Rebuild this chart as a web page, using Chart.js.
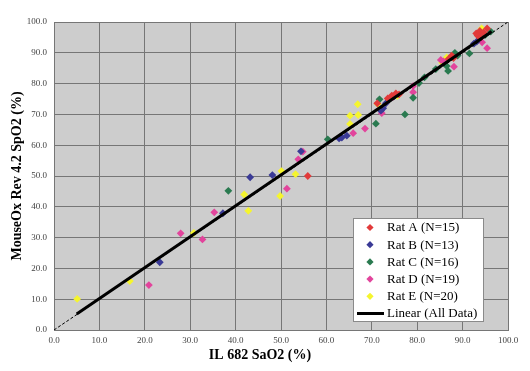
<!DOCTYPE html>
<html>
<head>
<meta charset="utf-8">
<script src="https://cdn.jsdelivr.net/npm/chart.js@4"></script>
<style>
  body { margin: 0; background: #fff; }
  canvas { display: block; }
</style>
</head>
<body>
<canvas id="grafico" width="530" height="371"></canvas>
<script>
// valores: [SaO2, SpO2]
const ratA = [[55.9,50.0],[71.2,73.6],[74.4,76.1],[75.3,76.8],[76.0,76.5],[87.6,89.1],[88.0,88.3],
  [93.0,96.3],[93.8,97.1],[95.4,97.9],[93.3,95.6],[94.6,96.6],[86.9,88.0],[73.5,75.2],[94.0,95.0]];
const ratB = [[23.3,22.0],[37.2,37.9],[43.2,49.6],[48.1,50.3],[54.4,58.0],[62.8,62.2],[63.4,62.5],
  [64.5,63.1],[72.5,72.0],[73.1,73.6],[72.0,71.2],[93.1,93.6],[92.5,93.0]];
const ratC = [[38.4,45.2],[60.3,61.9],[70.9,67.0],[71.7,74.9],[77.3,70.0],[79.1,75.4],[81.6,82.0],
  [84.1,84.7],[86.5,85.7],[86.8,84.1],[88.3,90.0],[88.9,89.1],[91.5,89.8],[96.2,96.9],[80.4,80.2],[95.0,95.8]];
const ratD = [[20.9,14.6],[27.9,31.4],[32.7,29.4],[35.3,38.2],[51.3,45.9],[53.8,55.4],[54.8,57.9],
  [65.9,63.9],[68.5,65.4],[72.2,70.4],[79.1,77.2],[79.1,79.2],[85.2,87.7],[88.1,85.5],[94.3,93.4],
  [95.4,91.5],[85.8,87.2],[93.7,96.0],[74.6,75.6]];
const ratE = [[5.1,10.1],[16.7,15.9],[30.8,31.5],[41.9,44.0],[42.8,38.7],[49.8,43.5],[50.1,51.6],
  [53.2,50.6],[65.2,66.9],[65.2,69.6],[67.0,69.8],[66.9,73.3],[71.3,73.4],[75.6,76.0],[86.5,88.5],
  [93.6,95.8],[94.2,97.9],[94.0,96.5],[87.0,88.2],[85.5,86.8]];
const linearFit = [[5.0,5.2],[96.4,96.9]];
const identidade = [[0,0],[100,100]];

const nomes = ["Rat A (N=15)", "Rat B (N=13)", "Rat C (N=16)", "Rat D (N=19)", "Rat E (N=20)"];
const cores = ["#E23A3A", "#3A3A96", "#2A7A50", "#E2449C", "#F5F52E"];
const series = [ratA, ratB, ratC, ratD, ratE];

const fonte = "'Liberation Serif', 'Times New Roman', serif";

function pts(lista) {
  return lista.map(p => ({ x: p[0], y: p[1] }));
}

const datasets = [
  { label: "Linear (All Data)", data: pts(linearFit), showLine: true, borderColor: "#000",
    borderWidth: 3, pointRadius: 0, fill: false },
  { label: "y=x", data: pts(identidade), showLine: true, borderColor: "#000",
    borderWidth: 1, borderDash: [3, 2], pointRadius: 0, fill: false }
];
series.forEach((s, i) => {
  datasets.push({
    label: nomes[i], data: pts(s), pointStyle: "rectRot", pointRadius: 3.9,
    backgroundColor: cores[i], borderColor: cores[i], borderWidth: 0, showLine: false
  });
});

// fundo cinza da area do grafico + titulo do eixo x
const fundo = {
  id: "fundo",
  beforeDraw(chart) {
    const { ctx, chartArea: a } = chart;
    ctx.save();
    ctx.fillStyle = "#CDCDCD";
    ctx.fillRect(a.left, a.top, a.right - a.left, a.bottom - a.top);
    ctx.restore();
  },
  afterDraw(chart) {
    const { ctx } = chart;
    ctx.save();
    ctx.font = "bold 14px " + fonte;
    ctx.fillStyle = "#000";
    ctx.textAlign = "center";
    ctx.textBaseline = "middle";
    ctx.fillText("IL 682 SaO2 (%)", 260, 355);
    ctx.restore();
  }
};

// legenda dentro do grafico (canto inferior direito)
const legenda = {
  id: "legenda",
  afterDraw(chart) {
    const { ctx } = chart;
    const x = 353, y = 218, w = 130, h = 103;
    ctx.save();
    ctx.fillStyle = "#fff";
    ctx.fillRect(x, y, w, h);
    ctx.strokeStyle = "#8a8a8a";
    ctx.lineWidth = 1;
    ctx.strokeRect(x + 0.5, y + 0.5, w, h);
    ctx.font = "13px " + fonte;
    ctx.textBaseline = "middle";
    ctx.fillStyle = "#000";
    const passo = 17.2;
    nomes.forEach((n, i) => {
      const cy = y + 9.5 + i * passo;
      ctx.fillStyle = cores[i];
      ctx.beginPath();
      ctx.moveTo(370, cy - 3.6); ctx.lineTo(373.6, cy); ctx.lineTo(370, cy + 3.6); ctx.lineTo(366.4, cy);
      ctx.closePath();
      ctx.fill();
      ctx.fillStyle = "#000";
      ctx.fillText(n, 387, cy + 0.5);
    });
    const cy = y + 9.5 + 5 * passo;
    ctx.strokeStyle = "#000";
    ctx.lineWidth = 3;
    ctx.beginPath();
    ctx.moveTo(357, cy); ctx.lineTo(384, cy);
    ctx.stroke();
    ctx.fillText("Linear (All Data)", 387, cy + 0.5);
    ctx.restore();
  }
};

new Chart(document.getElementById("grafico").getContext("2d"), {
  type: "scatter",
  data: { datasets: datasets },
  options: {
    responsive: false,
    animation: false,
    layout: { padding: { left: 0, top: 22, right: 22, bottom: 0 } },
    plugins: { legend: { display: false }, tooltip: { enabled: false } },
    scales: {
      x: {
        type: "linear", min: 0, max: 100,
        afterFit: s => { s.height = 41; },
        ticks: { stepSize: 10, padding: 5, color: "#444", font: { family: fonte, size: 9 },
          callback: v => v.toFixed(1) },
        grid: { color: "#767676", drawTicks: false },
        border: { color: "#767676" }
      },
      y: {
        type: "linear", min: 0, max: 100,
        afterFit: s => { s.width = 54; },
        ticks: { stepSize: 10, padding: 7, color: "#444", font: { family: fonte, size: 9 },
          callback: v => v.toFixed(1) },
        grid: { color: "#767676", drawTicks: false },
        border: { color: "#767676" },
        title: { display: true, text: "MouseOx Rev 4.2 SpO2 (%)", color: "#000",
          font: { family: fonte, size: 14, weight: "bold" }, padding: { top: 8.6, bottom: 0 } }
      }
    }
  },
  plugins: [fundo, legenda]
});
</script>
</body>
</html>
